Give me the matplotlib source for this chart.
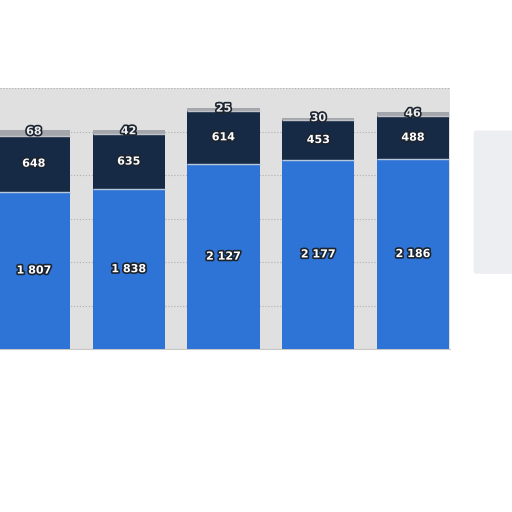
import matplotlib.pyplot as plt
import matplotlib.patheffects as pe
from matplotlib.patches import FancyBboxPatch
import numpy as np

# values per column, bottom to top
blue_vals = [1807, 1838, 2127, 2177, 2186]
navy_vals = [648, 635, 614, 453, 488]
top_vals = [68, 42, 25, 30, 46]

blue = "#2e74d6"
navy = "#172a45"
grey = "#a3a6aa"


def fmt(v):
    return "{:,}".format(v).replace(",", " ")


fig = plt.figure(figsize=(5.12, 5.12), dpi=100)
fig.patch.set_facecolor("white")
ax = fig.add_axes([0.0, 0.318, 0.879, 0.51])
ax.set_facecolor("#e0e0e0")

x = np.arange(len(blue_vals))
w = 0.76
b1 = np.array(blue_vals)
b2 = b1 + np.array(navy_vals)

ax.bar(x, blue_vals, w, color=blue, edgecolor="none", zorder=3)
ax.bar(x, navy_vals, w, bottom=b1, color=navy, edgecolor="none", zorder=3)
ax.bar(x, top_vals, w, bottom=b2, color=grey, edgecolor="none", zorder=3)
# thin light separators between segments
ax.hlines(b1, x - w / 2, x + w / 2, color="#b8c8dc", lw=1, zorder=4)
ax.hlines(b2, x - w / 2, x + w / 2, color="#c0c4c8", lw=1, zorder=4)

stroke = [pe.withStroke(linewidth=2.4, foreground="#1c2430")]
for i in range(len(x)):
    ax.text(x[i], blue_vals[i] / 2, fmt(blue_vals[i]), ha="center", va="center",
            color="white", fontsize=8, fontweight="bold", path_effects=stroke, zorder=5)
    ax.text(x[i], b1[i] + navy_vals[i] / 2, fmt(navy_vals[i]), ha="center", va="center",
            color="white", fontsize=8, fontweight="bold", path_effects=stroke, zorder=5)
    ax.text(x[i], b2[i] + top_vals[i] / 2 + 10, fmt(top_vals[i]), ha="center", va="center",
            color="#eeeeee", fontsize=8, fontweight="bold", path_effects=stroke, zorder=5)

ax.set_xlim(-0.358, 4.39)
ax.set_ylim(0, 3000)
ax.set_yticks(np.arange(0, 3001, 500))
ax.yaxis.grid(True, linestyle=":", color="#b0b0b0", lw=0.8, zorder=0)
ax.tick_params(left=False, bottom=False, labelleft=False, labelbottom=False)
for s in ax.spines.values():
    s.set_visible(False)
ax.spines["bottom"].set_visible(True)
ax.spines["bottom"].set_color("#c8c8c8")

# faded legend ghost on the right
fig.patches.append(FancyBboxPatch((0.93, 0.47), 0.085, 0.27, boxstyle="round,pad=0.005",
                                  transform=fig.transFigure, facecolor="#e6e8ec",
                                  edgecolor="none", alpha=0.7))

fig.savefig("out.png", dpi=100)
